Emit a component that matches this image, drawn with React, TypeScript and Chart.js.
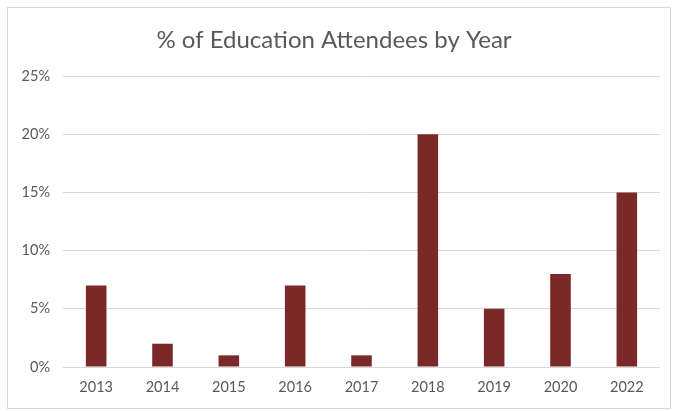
import React, { useEffect, useRef } from "react";
import { Chart, registerables } from "chart.js";

Chart.register(...registerables);

const years = ["2013", "2014", "2015", "2016", "2017", "2018", "2019", "2020", "2022"];
const attendeePct = [7, 2, 1, 7, 1, 20, 5, 8, 15];
const yTicks = [0, 5, 10, 15, 20, 25];
const chartTitle = "% of Education Attendees by Year";

export default function App() {
  const ref = useRef<HTMLCanvasElement>(null);
  useEffect(() => {
    if (!ref.current) return;
    const chart = new Chart(ref.current, {
      type: "bar",
      data: {
        labels: years,
        datasets: [
          {
            label: "Attendees",
            data: attendeePct,
            backgroundColor: "#7B2828",
            borderWidth: 0,
            categoryPercentage: 1,
            barPercentage: 0.31,
          },
        ],
      },
      options: {
        responsive: false,
        animation: false,
        layout: { padding: { left: 0, right: 10, top: 0, bottom: 0 } },
        plugins: {
          legend: { display: false },
          tooltip: { enabled: false },
          title: {
            display: true,
            text: chartTitle,
            color: "#595959",
            font: { family: "Lato", size: 24, weight: "normal" },
            padding: { top: 18, bottom: 21.2 },
          },
        },
        scales: {
          x: {
            grid: { display: false, drawTicks: false },
            border: { display: false },
            ticks: {
              color: "#595959",
              font: { family: "Lato", size: 14.5 },
              padding: 12,
            },
            afterFit: (s: any) => {
              s.height = 41;
            },
          },
          y: {
            min: 0,
            max: 25,
            afterBuildTicks: (s: any) => {
              s.ticks = yTicks.map((v) => ({ value: v }));
            },
            grid: { color: "#d9d9d9", drawTicks: false },
            border: { display: false },
            ticks: {
              color: "#595959",
              font: { family: "Lato", size: 14.5 },
              padding: 13,
              callback: (v: any) => v + "%",
            },
            afterFit: (s: any) => {
              s.width = 55;
            },
          },
        },
      },
    });
    return () => chart.destroy();
  }, []);
  return (
    <div
      style={{
        position: "absolute",
        left: 7,
        top: 7,
        width: 662,
        height: 400,
        border: "1px solid #d9d9d9",
        background: "#fff",
      }}
    >
      <canvas ref={ref} width={662} height={400} style={{ display: "block" }} />
    </div>
  );
}
